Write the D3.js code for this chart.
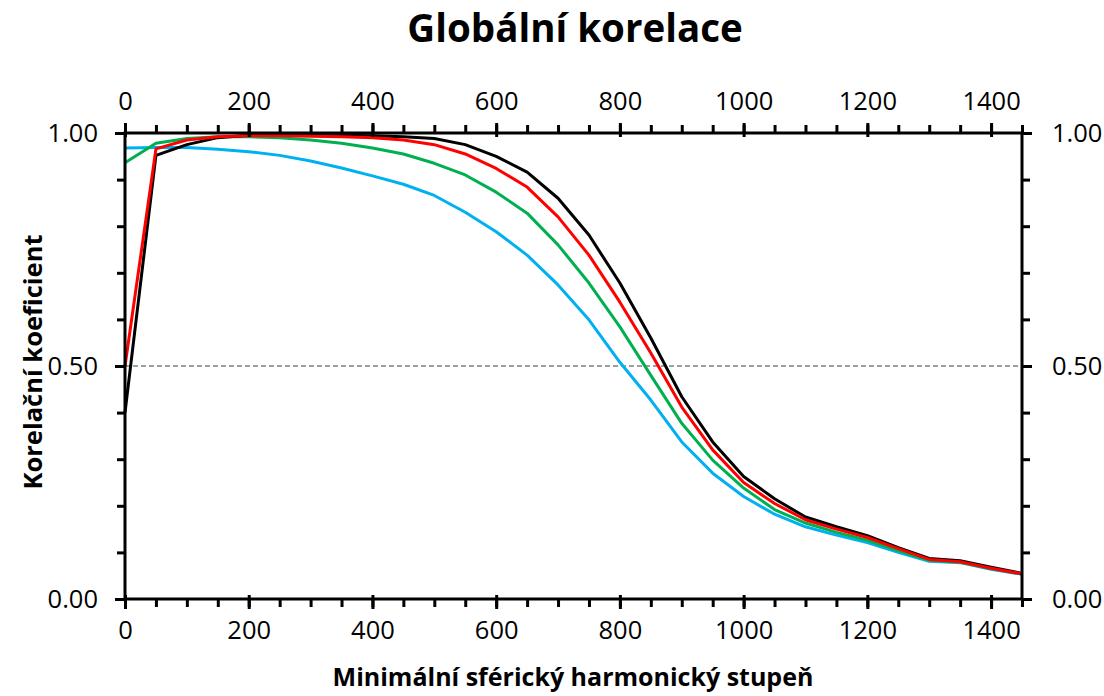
<!DOCTYPE html>
<html>
<head>
<meta charset="utf-8">
<script src="https://cdn.jsdelivr.net/npm/d3@7"></script>
<style>
  body { margin: 0; background: #fff; }
  svg text { font-family: "Open Sans", "Liberation Sans", sans-serif; }
</style>
</head>
<body>
<div id="chart"></div>
<script>
// stupně (x) - krok 50
const degrees = [0, 50, 100, 150, 200, 250, 300, 350, 400, 450, 500, 550, 600, 650, 700,
  750, 800, 850, 900, 950, 1000, 1050, 1100, 1150, 1200, 1250, 1300, 1350, 1400, 1450];

const blackValues = [0.40, 0.952, 0.975, 0.99, 0.995, 0.996, 0.996, 0.995, 0.994, 0.992, 0.988, 0.975, 0.95, 0.916,
  0.86, 0.781, 0.678, 0.56, 0.434, 0.337, 0.263, 0.215, 0.176, 0.155, 0.136, 0.11, 0.087, 0.082, 0.068, 0.055];
const redValues = [0.50, 0.966, 0.985, 0.992, 0.994, 0.994, 0.993, 0.992, 0.99, 0.985, 0.975, 0.955, 0.924, 0.884,
  0.82, 0.738, 0.637, 0.528, 0.412, 0.32, 0.25, 0.205, 0.17, 0.15, 0.132, 0.108, 0.085, 0.08, 0.066, 0.054];
const greenValues = [0.936, 0.978, 0.988, 0.992, 0.992, 0.99, 0.985, 0.978, 0.968, 0.955, 0.935, 0.91, 0.873, 0.828,
  0.76, 0.678, 0.584, 0.48, 0.377, 0.298, 0.238, 0.192, 0.163, 0.143, 0.126, 0.104, 0.083, 0.079, 0.065, 0.054];
const blueValues = [0.968, 0.969, 0.969, 0.965, 0.96, 0.952, 0.94, 0.925, 0.908, 0.89, 0.866, 0.83, 0.788, 0.738,
  0.674, 0.599, 0.508, 0.427, 0.337, 0.27, 0.22, 0.182, 0.155, 0.137, 0.121, 0.1, 0.081, 0.078, 0.064, 0.053];

const series = [
  { name: "blue", color: "#00B0F0", values: blueValues },
  { name: "green", color: "#00B050", values: greenValues },
  { name: "black", color: "#000000", values: blackValues },
  { name: "red", color: "#FF0000", values: redValues }
];

const xTicks = [0, 200, 400, 600, 800, 1000, 1200, 1400];
const yTicks = [0, 0.5, 1];
const title = "Globální korelace";
const xTitle = "Minimální sférický harmonický stupeň";
const yTitle = "Korelační koeficient";

const width = 1104, height = 696;
const plot = { left: 125, right: 1022, top: 133, bottom: 599 };

const svg = d3.select("#chart").append("svg")
  .attr("width", width)
  .attr("height", height);

const x = d3.scaleLinear().domain([0, 1450]).range([plot.left, plot.right]);
const y = d3.scaleLinear().domain([0, 1]).range([plot.bottom, plot.top]);

// referenční čára 0.5
svg.append("line")
  .attr("x1", x(0)).attr("x2", x(1450))
  .attr("y1", y(0.5)).attr("y2", y(0.5))
  .attr("stroke", "#808080")
  .attr("stroke-width", 1.3)
  .attr("stroke-dasharray", "5,3");

// čáry
const line = d3.line()
  .x((d, i) => x(degrees[i]))
  .y(d => y(d));

series.forEach(s => {
  svg.append("path")
    .datum(s.values)
    .attr("d", line)
    .attr("fill", "none")
    .attr("stroke", s.color)
    .attr("stroke-width", 3)
    .attr("stroke-linejoin", "round");
});

// osy
const minorX = d3.range(0, 1451, 50);
const minorY = d3.range(0, 1.001, 0.1);
const tickFont = 25.5;

function styleAxis(g) {
  g.select(".domain").remove();
  g.selectAll(".tick line").attr("stroke", "#000").attr("stroke-width", 3);
  g.selectAll(".tick text").attr("font-size", tickFont).attr("fill", "#000");
}

// spodní osa
svg.append("g")
  .attr("transform", `translate(0,${plot.bottom})`)
  .call(d3.axisBottom(x).tickValues(minorX).tickSize(8).tickFormat(""))
  .call(styleAxis);
svg.append("g")
  .attr("transform", `translate(0,${plot.bottom})`)
  .call(d3.axisBottom(x).tickValues(xTicks).tickSize(10).tickPadding(12).tickFormat(d3.format("d")))
  .call(styleAxis)
  .call(g => g.selectAll(".tick line").attr("y1", -4));

// horní osa
svg.append("g")
  .attr("transform", `translate(0,${plot.top})`)
  .call(d3.axisTop(x).tickValues(minorX).tickSize(8).tickFormat(""))
  .call(styleAxis);
svg.append("g")
  .attr("transform", `translate(0,${plot.top})`)
  .call(d3.axisTop(x).tickValues(xTicks).tickSize(10).tickPadding(13).tickFormat(d3.format("d")))
  .call(styleAxis)
  .call(g => g.selectAll(".tick line").attr("y1", 4));

// levá osa
svg.append("g")
  .attr("transform", `translate(${plot.left},0)`)
  .call(d3.axisLeft(y).tickValues(minorY).tickSize(8).tickFormat(""))
  .call(styleAxis);
svg.append("g")
  .attr("transform", `translate(${plot.left},0)`)
  .call(d3.axisLeft(y).tickValues(yTicks).tickSize(10).tickPadding(17).tickFormat(d3.format(".2f")))
  .call(styleAxis);

// pravá osa
svg.append("g")
  .attr("transform", `translate(${plot.right},0)`)
  .call(d3.axisRight(y).tickValues(minorY).tickSize(8).tickFormat(""))
  .call(styleAxis);
svg.append("g")
  .attr("transform", `translate(${plot.right},0)`)
  .call(d3.axisRight(y).tickValues(yTicks).tickSize(10).tickPadding(20).tickFormat(d3.format(".2f")))
  .call(styleAxis);

// rámeček
svg.append("rect")
  .attr("x", plot.left).attr("y", plot.top)
  .attr("width", plot.right - plot.left).attr("height", plot.bottom - plot.top)
  .attr("fill", "none")
  .attr("stroke", "#000")
  .attr("stroke-width", 3);

// titulky
svg.append("text")
  .attr("x", 575).attr("y", 42)
  .attr("text-anchor", "middle")
  .attr("font-size", 38.5)
  .attr("font-weight", "bold")
  .text(title);

svg.append("text")
  .attr("x", 573).attr("y", 686)
  .attr("text-anchor", "middle")
  .attr("font-size", 25)
  .attr("font-weight", "bold")
  .text(xTitle);

svg.append("text")
  .attr("transform", `translate(42,362) rotate(-90)`)
  .attr("text-anchor", "middle")
  .attr("font-size", 25.5)
  .attr("font-weight", "bold")
  .text(yTitle);
</script>
</body>
</html>
